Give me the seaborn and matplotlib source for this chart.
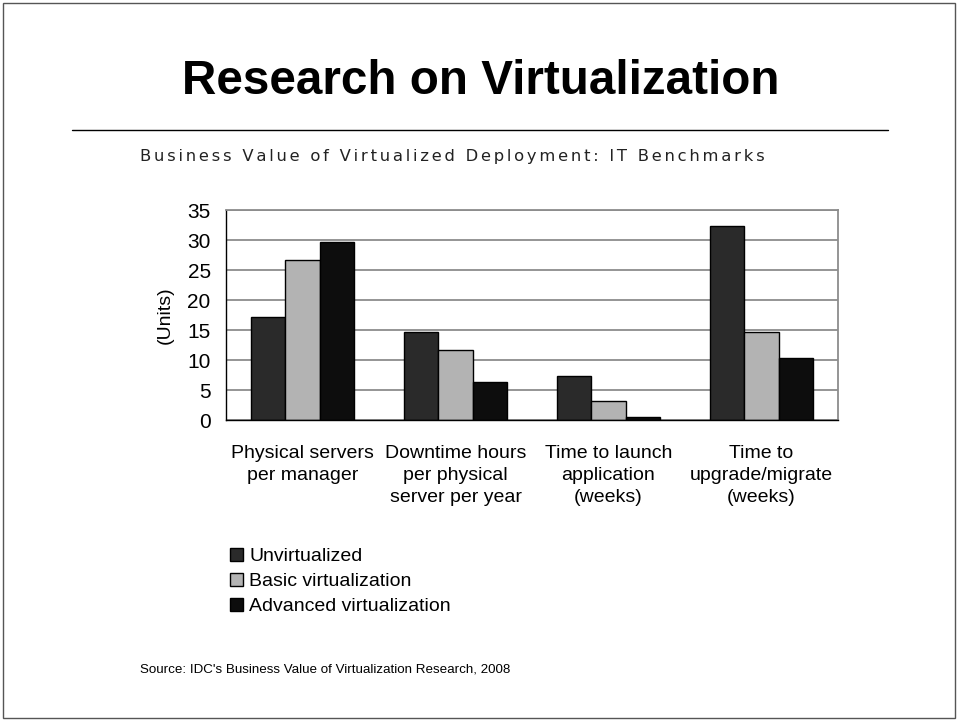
import pandas as pd
import seaborn as sns
import matplotlib.pyplot as plt
from matplotlib.patches import Patch, Rectangle
from matplotlib.lines import Line2D
import numpy as np

# Data
categories = ['Physical servers\nper manager', 'Downtime hours\nper physical\nserver per year',
              'Time to launch\napplication\n(weeks)', 'Time to\nupgrade/migrate\n(weeks)']
series = ['Unvirtualized', 'Basic virtualization', 'Advanced virtualization']
unvirtualized = [17.1, 14.6, 7.4, 32.4]
basic = [26.6, 11.7, 3.1, 14.7]
advanced = [29.6, 6.3, 0.5, 10.4]

data = pd.DataFrame({
    'category': categories * 3,
    'series': [series[0]] * 4 + [series[1]] * 4 + [series[2]] * 4,
    'value': unvirtualized + basic + advanced,
})

# Styles
pal = {series[0]: '#2a2a2a', series[1]: '#b3b3b3', series[2]: '#0d0d0d'}
gridCol = '#8c8c8c'
sns.set_style('white')
plt.rcParams['font.family'] = ['Liberation Sans', 'DejaVu Sans']
plt.rcParams['text.color'] = 'black'
plt.rcParams['axes.labelcolor'] = 'black'

fig = plt.figure(figsize=(9.58, 7.21), dpi=100)
W, H = 958.0, 721.0

# slide frame, title and rule
fig.patches.append(Rectangle((3 / W, 3 / H), 952 / W, 715 / H, transform=fig.transFigure,
                             fill=False, edgecolor='#555555', lw=1))
fig.text(481 / W, 1 - 81 / H, 'Research on Virtualization', ha='center', va='center',
         fontsize=34.3, fontweight='bold')
fig.lines.append(Line2D([72 / W, 888 / W], [1 - 130 / H, 1 - 130 / H], transform=fig.transFigure,
                        color='black', lw=1))
subtitle = 'Business Value of Virtualized Deployment: IT Benchmarks'
fig.text(140 / W, 1 - 157 / H, '\u2006'.join(subtitle),
         ha='left', va='center', fontsize=11.8, family='DejaVu Sans', color='#222222')

ax = fig.add_axes([226 / W, 1 - 420 / H, 612 / W, 210 / H])
sns.barplot(data=data, x='category', y='value', hue='series', palette=pal, width=0.67,
            edgecolor='black', linewidth=1, saturation=1, ax=ax, legend=False)
ax.set_ylim(0, 35)
ax.set_xlim(-0.5, 3.5)
ax.set_yticks(np.arange(0, 36, 5))
ax.yaxis.grid(True, color=gridCol, lw=1.3)
ax.set_axisbelow(True)
ax.set_xlabel('')
ax.set_ylabel('(Units)', fontsize=14, labelpad=10)
ax.tick_params(axis='y', labelsize=15, length=8, width=1, color='#555555', labelcolor='black', pad=3)
ax.tick_params(axis='x', which='major', labelsize=14, length=0, pad=18, labelcolor='black')
for lab in ax.get_xticklabels():
    lab.set_linespacing(1.4)
ax.set_xticks(np.arange(-0.5, 4, 1), minor=True)
ax.tick_params(axis='x', which='minor', length=7, width=1, color='black', direction='out')
for s in ['top', 'right']:
    ax.spines[s].set_color(gridCol)
    ax.spines[s].set_linewidth(1.3)
for s in ['left', 'bottom']:
    ax.spines[s].set_color('black')
    ax.spines[s].set_linewidth(1)

# legend under the chart
handles = [Patch(facecolor=pal[s], edgecolor='black', lw=1) for s in series]
fig.legend(handles, series, loc='upper left', bbox_to_anchor=(222 / W, 1 - 540 / H),
           frameon=False, fontsize=14, handlelength=0.7, handleheight=0.7,
           handletextpad=0.3, labelspacing=0.38, borderaxespad=0)

fig.text(140 / W, 1 - 670 / H, "Source: IDC's Business Value of Virtualization Research, 2008",
         ha='left', va='center', fontsize=9.6)

fig.savefig('out.png', dpi=100)
